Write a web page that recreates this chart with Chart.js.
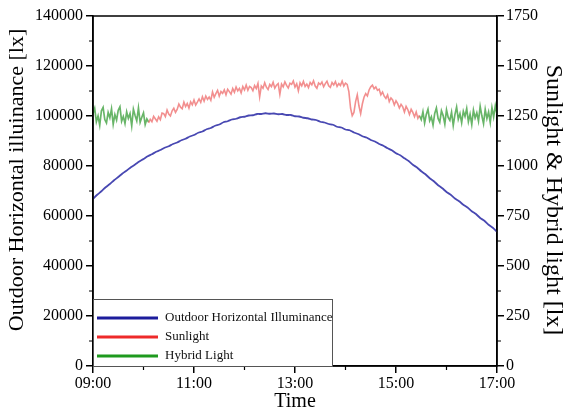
<!DOCTYPE html>
<html>
<head>
<meta charset="utf-8">
<script src="https://cdn.jsdelivr.net/npm/chart.js@4/dist/chart.umd.min.js"></script>
<style>
  html, body { margin: 0; padding: 0; background: #fff; }
  canvas { display: block; }
</style>
</head>
<body>
<canvas id="chart" width="569" height="414"></canvas>
<script>
// Eixo do tempo em minutos desde 09:00
const timeTicks = ['09:00', '11:00', '13:00', '15:00', '17:00'];

// Iluminância exterior (lx), a cada 5 minutos de 09:00 a 17:00
const outdoorStep = 5;
const outdoor = [
  66800, 68500, 69900, 71500, 72800, 74300, 75600, 77000, 78200, 79500,
  80600, 81800, 82800, 83900, 84700, 85700, 86400, 87300, 87900, 88800,
  89400, 90300, 90900, 91800, 92400, 93300, 93800, 94700, 95200, 96100,
  96600, 97500, 97900, 98600, 98900, 99500, 99700, 100200, 100300, 100800,
  100800, 101100, 100900, 101000, 100700, 100800, 100400, 100400, 99900, 99800,
  99300, 99100, 98600, 98400, 97700, 97400, 96800, 96500, 95700, 95400,
  94600, 94300, 93400, 92800, 91900, 91400, 90400, 89800, 88800, 88100,
  87100, 86300, 85100, 84300, 83100, 82000, 80500, 79400, 77900, 76700,
  75100, 73900, 72300, 71100, 69600, 68500, 67000, 65900, 64500, 63400,
  61900, 60800, 59200, 58100, 56500, 55300, 53700, 52200
];

// Luz solar (lx), a cada 2 minutos de 10:06 a 15:28
const sunStart = 66;
const sunStep = 2;
const sunlight = [
  1216, 1233, 1221, 1248, 1236, 1224, 1246, 1232, 1265, 1262,
  1247, 1280, 1260, 1250, 1276, 1289, 1268, 1283, 1310,
  1294, 1286, 1319, 1297, 1313, 1290, 1321, 1306, 1330, 1305,
  1319, 1335, 1318, 1346, 1324, 1350, 1333, 1345, 1328, 1370,
  1344, 1362, 1378, 1349, 1372, 1363, 1381, 1356, 1384, 1372,
  1359, 1387, 1369, 1395, 1376, 1388, 1366, 1397, 1380, 1405,
  1379, 1398, 1392, 1376, 1402, 1387, 1413, 1345, 1400, 1389,
  1416, 1394, 1382, 1408, 1397, 1419, 1389, 1404, 1412, 1358,
  1410, 1396, 1421, 1403, 1390, 1414, 1408, 1425, 1395, 1411,
  1376, 1416, 1401, 1423, 1398, 1410, 1392, 1418, 1406, 1426,
  1400, 1389, 1415, 1407, 1420, 1396, 1412, 1424, 1401, 1393,
  1417, 1405, 1422, 1398, 1412, 1403, 1425, 1400, 1414, 1408,
  1372, 1290, 1252, 1268, 1322, 1356, 1300, 1262, 1310, 1344,
  1362, 1350, 1380, 1396, 1404, 1386,
  1395, 1378, 1384, 1356, 1370, 1349, 1338, 1356, 1322, 1340,
  1330, 1305, 1326, 1312, 1290, 1308, 1296, 1270, 1298, 1282,
  1258, 1284, 1268, 1246, 1270, 1238, 1254
];

// Luz híbrida (lx), a cada 2 minutos: 09:00–10:06 e 15:28–17:00
const hybridStep = 2;
const hybridMorningStart = 0;
const hybridMorning = [
  1262, 1288, 1221, 1250, 1204, 1276, 1293, 1232, 1215, 1268,
  1241, 1286, 1209, 1257, 1230, 1279, 1296, 1224, 1248, 1213,
  1271, 1238, 1262, 1201, 1284, 1253, 1226, 1290, 1218, 1244,
  1266, 1207, 1235, 1220
];
const hybridAfternoonStart = 388;
const hybridAfternoon = [
  1250, 1232, 1271, 1215, 1258, 1284, 1227, 1246, 1205, 1263,
  1290, 1238, 1219, 1276, 1252, 1210, 1281, 1243, 1228, 1269,
  1203, 1257, 1295, 1234, 1262, 1216, 1274, 1248, 1287, 1222,
  1259, 1208, 1279, 1240, 1266, 1225, 1298, 1251, 1212, 1283,
  1237, 1270, 1218, 1292, 1245, 1302, 1260
];

const toPoints = (vals, start, step) => vals.map((v, i) => ({ x: start + i * step, y: v }));

const hybridPoints = toPoints(hybridMorning, hybridMorningStart, hybridStep)
  .concat([{ x: sunStart + 1, y: null }])
  .concat(toPoints(hybridAfternoon, hybridAfternoonStart, hybridStep));

const serif = '"Liberation Serif", "DejaVu Serif", serif';

// Moldura, ticks menores e legenda dentro do gráfico
const extras = {
  id: 'extras',
  afterDraw(chart) {
    const { ctx, chartArea: ca, scales } = chart;
    ctx.save();
    ctx.strokeStyle = '#000';
    ctx.lineWidth = 1.5;
    ctx.strokeRect(ca.left, ca.top, ca.right - ca.left, ca.bottom - ca.top);

    // ticks menores
    ctx.lineWidth = 1.2;
    ctx.beginPath();
    [60, 180, 300, 420].forEach(v => {
      const px = scales.x.getPixelForValue(v);
      ctx.moveTo(px, ca.bottom); ctx.lineTo(px, ca.bottom + 4);
    });
    for (let v = 10000; v < 140000; v += 20000) {
      const py = scales.y.getPixelForValue(v);
      ctx.moveTo(ca.left, py); ctx.lineTo(ca.left - 4, py);
    }
    for (let v = 125; v < 1750; v += 250) {
      const py = scales.y1.getPixelForValue(v);
      ctx.moveTo(ca.right, py); ctx.lineTo(ca.right + 4, py);
    }
    ctx.stroke();

    // legenda
    const bx = ca.left, bw = 239, bh = 67, by = ca.bottom - bh;
    ctx.fillStyle = '#fff';
    ctx.fillRect(bx, by, bw, bh);
    ctx.strokeStyle = '#555';
    ctx.lineWidth = 1;
    ctx.strokeRect(bx + 0.5, by + 0.5, bw, bh);
    const items = [
      { label: chart.data.datasets[0].label, color: '#1c1c9c' },
      { label: chart.data.datasets[1].label, color: '#ee2a2a' },
      { label: chart.data.datasets[2].label, color: '#1e9a1e' }
    ];
    ctx.font = '13px ' + serif;
    ctx.textBaseline = 'middle';
    items.forEach((it, i) => {
      const y = by + 19 + i * 19;
      ctx.strokeStyle = it.color;
      ctx.lineWidth = 3;
      ctx.beginPath();
      ctx.moveTo(bx + 4, y); ctx.lineTo(bx + 65, y);
      ctx.stroke();
      ctx.fillStyle = '#111';
      ctx.fillText(it.label, bx + 72, y);
    });
    ctx.restore();
  }
};

new Chart(document.getElementById('chart'), {
  type: 'line',
  data: {
    datasets: [
      {
        label: 'Outdoor Horizontal Illuminance',
        data: toPoints(outdoor, 0, outdoorStep),
        yAxisID: 'y',
        borderColor: 'rgb(72,72,178)',
        borderWidth: 1.8,
        pointRadius: 0,
        tension: 0.2
      },
      {
        label: 'Sunlight',
        data: toPoints(sunlight, sunStart, sunStep),
        yAxisID: 'y1',
        borderColor: 'rgba(238,105,105,0.75)',
        borderWidth: 1.6,
        pointRadius: 0,
        tension: 0
      },
      {
        label: 'Hybrid Light',
        data: hybridPoints,
        yAxisID: 'y1',
        borderColor: 'rgba(40,150,40,0.7)',
        borderWidth: 1.7,
        pointRadius: 0,
        tension: 0,
        spanGaps: false
      }
    ]
  },
  options: {
    responsive: false,
    animation: false,
    devicePixelRatio: 1,
    layout: { padding: { top: 16, left: 0, right: 0, bottom: 0 } },
    plugins: { legend: { display: false }, tooltip: { enabled: false } },
    scales: {
      x: {
        type: 'linear',
        min: 0,
        max: 480,
        afterFit: s => { s.height = 48; },
        ticks: {
          stepSize: 120,
          maxRotation: 0,
          color: '#000',
          padding: 1,
          font: { family: serif, size: 16 },
          callback: v => timeTicks[v / 120]
        },
        grid: { drawOnChartArea: false, color: '#000', tickLength: 7, lineWidth: 1.5 },
        border: { display: true, color: '#000', width: 1.5 },
        title: { display: true, text: 'Time', color: '#000', font: { family: serif, size: 20 }, padding: { top: 0, bottom: 0 } }
      },
      y: {
        position: 'left',
        min: 0,
        max: 140000,
        afterFit: s => { s.width = 93; },
        ticks: { stepSize: 20000, color: '#000', padding: 3, font: { family: serif, size: 16 }, callback: v => String(v) },
        grid: { drawOnChartArea: false, color: '#000', tickLength: 7, lineWidth: 1.5 },
        border: { display: true, color: '#000', width: 1.5 },
        title: { display: true, text: '    Outdoor Horizontal illuinance [lx]', color: '#000', font: { family: serif, size: 22 }, padding: { top: 4 } }
      },
      y1: {
        position: 'right',
        min: 0,
        max: 1750,
        afterFit: s => { s.width = 72; },
        ticks: { stepSize: 250, color: '#000', padding: 2, font: { family: serif, size: 16 }, callback: v => String(v) },
        grid: { drawOnChartArea: false, color: '#000', tickLength: 7, lineWidth: 1.5 },
        border: { display: true, color: '#000', width: 1.5 },
        title: { display: true, text: '   Sunlight & Hybrid light [lx]', color: '#000', font: { family: serif, size: 24 }, padding: { top: 1 } }
      }
    }
  },
  plugins: [extras]
});
</script>
</body>
</html>
